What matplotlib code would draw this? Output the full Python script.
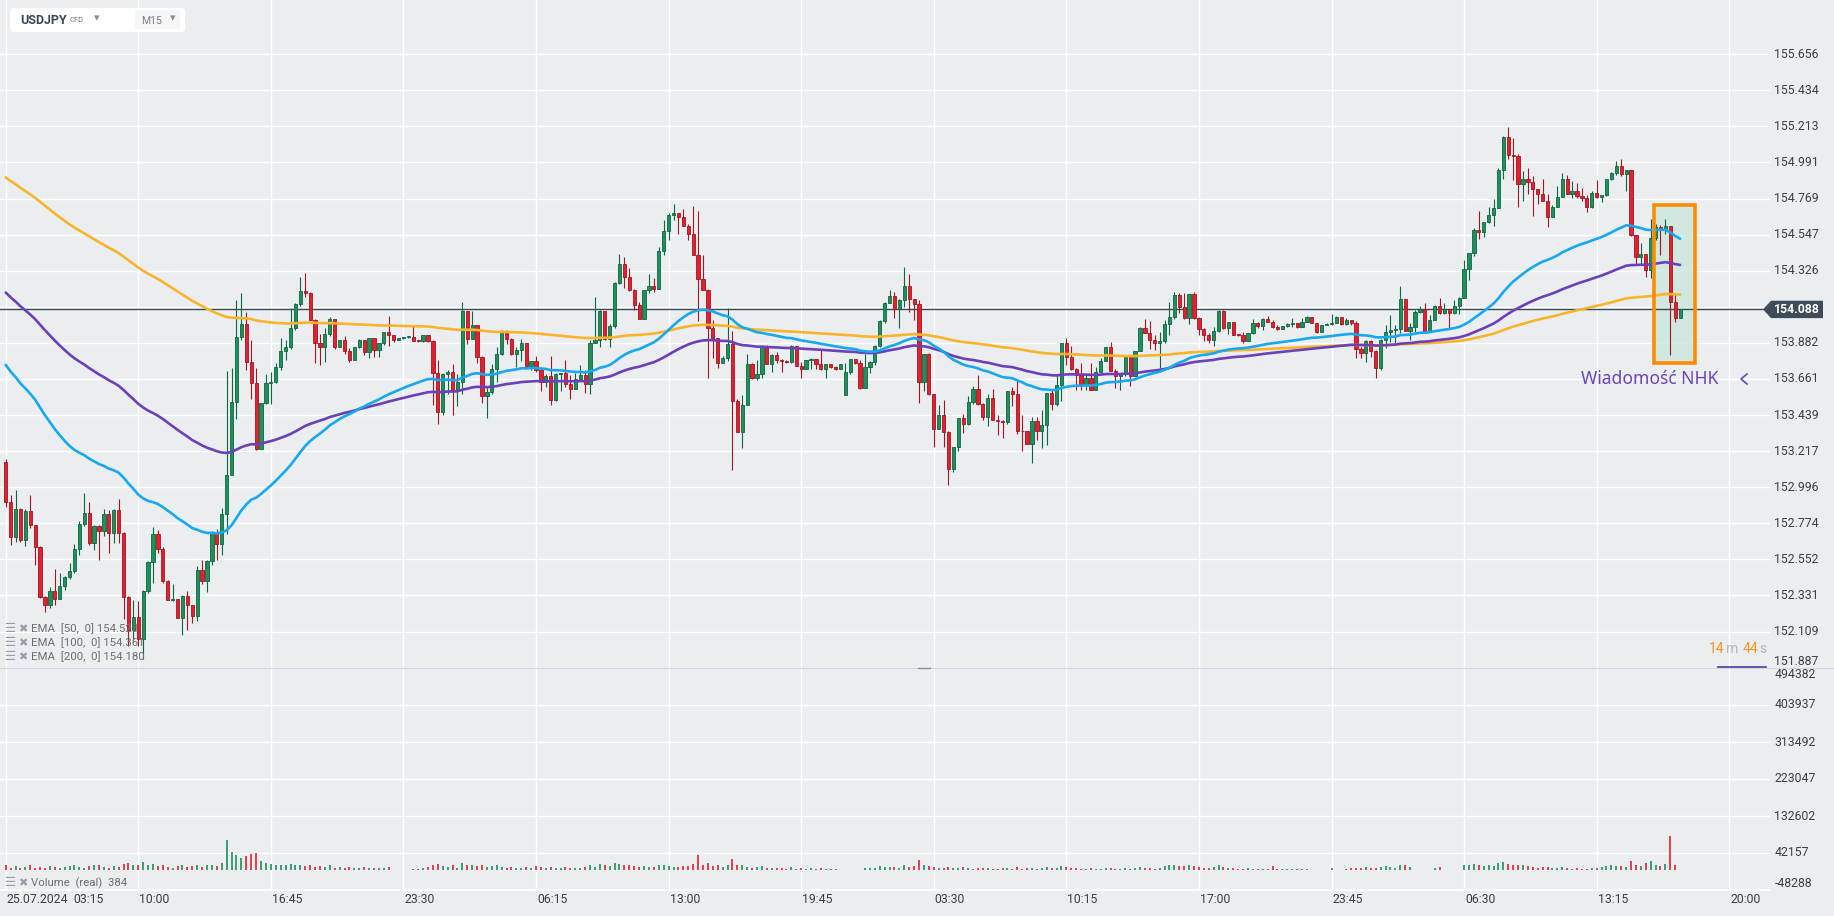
import numpy as np
import matplotlib.pyplot as plt
from matplotlib.patches import FancyBboxPatch, Rectangle, Polygon
from matplotlib.transforms import blended_transform_factory as blend

plt.rcParams['font.family'] = ['Roboto', 'DejaVu Sans']

# USDJPY M15 candles, 25.07.2024 03:15 onwards
close = [
    152.903, 152.690, 152.862, 152.670, 152.852, 152.762, 152.629, 152.320, 152.271, 152.361,
    152.306, 152.391, 152.447, 152.483, 152.616, 152.770, 152.839, 152.651, 152.755, 152.725,
    152.831, 152.715, 152.854, 152.715, 152.322, 152.121, 152.199, 152.066, 152.361, 152.535,
    152.708, 152.616, 152.422, 152.301, 152.310, 152.193, 152.330, 152.269, 152.207, 152.490,
    152.422, 152.541, 152.719, 152.647, 152.833, 153.068, 153.520, 153.917, 153.999, 153.764,
    153.639, 153.230, 153.512, 153.635, 153.641, 153.733, 153.835, 153.856, 153.972, 154.121,
    154.201, 154.187, 154.023, 153.884, 153.860, 153.937, 154.029, 153.860, 153.901, 153.833,
    153.778, 153.856, 153.901, 153.829, 153.911, 153.839, 153.880, 153.950, 153.931, 153.901,
    153.911, 153.917, 153.921, 153.896, 153.894, 153.929, 153.892, 153.697, 153.458, 153.689,
    153.701, 153.595, 153.640, 154.078, 153.908, 153.994, 153.796, 153.556, 153.583, 153.724,
    153.816, 153.949, 153.904, 153.816, 153.836, 153.884, 153.738, 153.773, 153.714, 153.642,
    153.677, 153.534, 153.693, 153.697, 153.632, 153.601, 153.662, 153.683, 153.628, 153.884,
    153.900, 154.078, 153.908, 153.984, 154.252, 154.365, 154.287, 154.205, 154.113, 154.031,
    154.205, 154.232, 154.213, 154.444, 154.567, 154.670, 154.682, 154.655, 154.600, 154.553,
    154.424, 154.275, 154.209, 153.976, 153.912, 153.759, 153.791, 153.873, 153.525, 153.335,
    153.499, 153.755, 153.669, 153.693, 153.861, 153.755, 153.806, 153.775, 153.771, 153.765,
    153.865, 153.738, 153.724, 153.775, 153.783, 153.750, 153.724, 153.750, 153.734, 153.724,
    153.750, 153.702, 153.782, 153.757, 153.604, 153.733, 153.764, 153.864, 154.017, 154.126,
    154.171, 154.089, 154.146, 154.232, 154.150, 154.119, 153.645, 153.813, 153.569, 153.353,
    153.441, 153.332, 153.107, 153.242, 153.420, 153.383, 153.518, 153.598, 153.506, 153.424,
    153.543, 153.406, 153.400, 153.395, 153.588, 153.569, 153.344, 153.338, 153.261, 153.404,
    153.344, 153.379, 153.573, 153.506, 153.623, 153.880, 153.798, 153.721, 153.686, 153.625,
    153.665, 153.590, 153.702, 153.772, 153.856, 153.712, 153.676, 153.690, 153.798, 153.680,
    153.833, 153.972, 153.946, 153.901, 153.880, 153.894, 153.997, 154.040, 154.177, 154.105,
    154.034, 154.181, 154.034, 153.966, 153.931, 153.901, 153.958, 154.079, 153.972, 154.009,
    153.931, 153.929, 153.896, 153.941, 154.003, 153.986, 154.027, 154.013, 153.982, 153.966,
    153.987, 153.999, 154.004, 153.982, 154.013, 154.044, 154.007, 153.952, 153.993, 153.996,
    154.003, 154.040, 153.997, 154.023, 154.003, 153.843, 153.819, 153.895, 153.835, 153.727,
    153.901, 153.952, 153.962, 153.968, 154.150, 153.958, 153.978, 154.074, 154.089, 153.952,
    154.023, 154.111, 154.064, 154.089, 154.064, 154.109, 154.160, 154.334, 154.432, 154.576,
    154.565, 154.627, 154.668, 154.713, 154.944, 155.148, 155.036, 155.030, 154.858, 154.892,
    154.872, 154.825, 154.800, 154.755, 154.657, 154.719, 154.780, 154.892, 154.800, 154.815,
    154.784, 154.770, 154.715, 154.805, 154.776, 154.790, 154.892, 154.927, 154.968, 154.919,
    154.944, 154.545, 154.408, 154.428, 154.330, 154.524, 154.594, 154.584, 154.598, 154.133,
    154.035, 154.088,
]
high = [
    153.171, 152.950, 152.976, 152.868, 152.862, 152.948, 152.755, 152.637, 152.330, 152.383,
    152.496, 152.469, 152.453, 152.530, 152.647, 152.786, 152.960, 152.905, 152.766, 152.766,
    152.862, 152.858, 152.862, 152.923, 152.721, 152.326, 152.301, 152.295, 152.367, 152.541,
    152.749, 152.735, 152.626, 152.428, 152.398, 152.306, 152.336, 152.357, 152.275, 152.514,
    152.551, 152.547, 152.725, 152.739, 152.870, 153.710, 153.727, 154.146, 154.187, 154.074,
    153.901, 153.727, 153.512, 153.690, 153.706, 153.757, 153.911, 153.901, 154.095, 154.130,
    154.289, 154.310, 154.193, 154.029, 153.937, 153.972, 154.040, 154.029, 153.901, 153.927,
    153.849, 153.856, 153.905, 153.901, 153.911, 153.911, 153.880, 153.950, 154.048, 153.925,
    153.913, 153.919, 153.923, 153.989, 153.899, 153.931, 153.931, 153.898, 153.775, 153.697,
    153.714, 153.750, 153.693, 154.131, 154.078, 154.078, 153.994, 153.804, 153.611, 153.755,
    153.857, 153.959, 153.959, 153.914, 153.857, 153.904, 153.877, 153.773, 153.800, 153.734,
    153.689, 153.800, 153.697, 153.699, 153.775, 153.683, 153.697, 153.744, 153.714, 153.902,
    154.164, 154.082, 154.066, 154.000, 154.256, 154.426, 154.410, 154.344, 154.213, 154.131,
    154.209, 154.303, 154.283, 154.471, 154.639, 154.680, 154.733, 154.680, 154.706, 154.610,
    154.721, 154.690, 154.420, 154.215, 154.021, 153.912, 153.800, 154.096, 153.953, 153.540,
    153.560, 153.816, 153.759, 153.779, 153.867, 153.867, 153.816, 153.826, 153.781, 153.775,
    153.871, 153.865, 153.763, 153.775, 153.789, 153.785, 153.847, 153.754, 153.752, 153.738,
    153.754, 153.757, 153.782, 153.782, 153.778, 153.815, 153.772, 153.870, 154.023, 154.136,
    154.207, 154.197, 154.150, 154.351, 154.306, 154.150, 154.146, 153.813, 153.823, 153.569,
    153.498, 153.532, 153.338, 153.242, 153.420, 153.447, 153.557, 153.618, 153.686, 153.512,
    153.569, 153.598, 153.440, 153.410, 153.588, 153.614, 153.651, 153.440, 153.340, 153.430,
    153.430, 153.471, 153.577, 153.598, 153.692, 153.880, 153.911, 153.864, 153.730, 153.761,
    153.685, 153.757, 153.733, 153.788, 153.856, 153.890, 153.723, 153.697, 153.798, 153.798,
    153.833, 153.982, 154.027, 154.017, 153.931, 153.952, 154.023, 154.136, 154.197, 154.191,
    154.187, 154.181, 154.197, 154.044, 153.972, 153.941, 153.982, 154.085, 154.085, 154.013,
    154.009, 153.939, 153.952, 153.945, 154.027, 154.013, 154.037, 154.048, 154.023, 153.990,
    153.987, 154.003, 154.034, 154.003, 154.034, 154.048, 154.044, 154.003, 153.993, 154.003,
    154.060, 154.048, 154.040, 154.034, 154.023, 154.017, 153.856, 153.901, 153.901, 153.839,
    153.905, 153.993, 154.054, 153.993, 154.232, 154.150, 154.003, 154.085, 154.109, 154.126,
    154.054, 154.115, 154.156, 154.126, 154.089, 154.146, 154.166, 154.391, 154.437, 154.586,
    154.694, 154.627, 154.719, 154.764, 154.954, 155.152, 155.209, 155.142, 155.042, 154.940,
    154.954, 154.907, 154.830, 154.892, 154.800, 154.729, 154.845, 154.927, 154.913, 154.876,
    154.866, 154.831, 154.790, 154.817, 154.882, 154.790, 154.892, 154.933, 155.001, 155.015,
    154.944, 154.944, 154.545, 154.494, 154.430, 154.641, 154.614, 154.604, 154.645, 154.598,
    154.191, 154.092,
]
low = [
    152.874, 152.643, 152.657, 152.657, 152.637, 152.743, 152.516, 152.316, 152.228, 152.254,
    152.275, 152.306, 152.367, 152.432, 152.469, 152.582, 152.755, 152.643, 152.610, 152.547,
    152.694, 152.592, 152.653, 152.653, 152.183, 152.019, 152.060, 152.019, 151.942, 152.346,
    152.408, 152.592, 152.408, 152.301, 152.295, 152.193, 152.085, 152.117, 152.162, 152.173,
    152.398, 152.351, 152.520, 152.551, 152.582, 152.710, 153.068, 153.414, 153.901, 153.717,
    153.537, 153.226, 153.236, 153.506, 153.506, 153.635, 153.717, 153.778, 153.843, 153.962,
    154.111, 154.166, 154.023, 153.757, 153.747, 153.768, 153.925, 153.843, 153.856, 153.815,
    153.768, 153.778, 153.849, 153.809, 153.792, 153.798, 153.798, 153.870, 153.864, 153.890,
    153.899, 153.907, 153.911, 153.896, 153.890, 153.890, 153.888, 153.499, 153.386, 153.437,
    153.566, 153.437, 153.492, 153.566, 153.873, 153.908, 153.759, 153.513, 153.421, 153.566,
    153.642, 153.806, 153.877, 153.806, 153.734, 153.771, 153.724, 153.714, 153.703, 153.587,
    153.611, 153.499, 153.525, 153.587, 153.611, 153.540, 153.597, 153.652, 153.574, 153.566,
    153.880, 153.857, 153.898, 153.857, 153.976, 154.246, 154.221, 154.201, 154.082, 154.027,
    154.027, 154.189, 154.195, 154.213, 154.420, 154.512, 154.635, 154.549, 154.598, 154.512,
    154.420, 154.017, 154.205, 153.669, 153.789, 153.728, 153.771, 153.771, 153.104, 153.335,
    153.239, 153.499, 153.662, 153.652, 153.669, 153.751, 153.703, 153.759, 153.703, 153.759,
    153.759, 153.738, 153.669, 153.720, 153.724, 153.724, 153.714, 153.669, 153.730, 153.718,
    153.720, 153.560, 153.692, 153.751, 153.598, 153.604, 153.696, 153.745, 153.857, 154.007,
    154.126, 154.034, 153.976, 154.101, 154.074, 154.023, 153.516, 153.588, 153.565, 153.240,
    153.353, 153.242, 153.007, 153.087, 153.216, 153.328, 153.378, 153.508, 153.502, 153.410,
    153.369, 153.406, 153.318, 153.301, 153.385, 153.496, 153.324, 153.216, 153.261, 153.144,
    153.287, 153.236, 153.256, 153.471, 153.496, 153.526, 153.747, 153.717, 153.590, 153.594,
    153.594, 153.590, 153.590, 153.702, 153.772, 153.712, 153.604, 153.590, 153.680, 153.618,
    153.676, 153.833, 153.942, 153.843, 153.839, 153.727, 153.880, 153.931, 154.030, 154.064,
    154.028, 153.997, 154.028, 153.931, 153.896, 153.880, 153.864, 153.950, 153.966, 153.937,
    153.929, 153.925, 153.884, 153.896, 153.937, 153.972, 153.962, 154.009, 153.972, 153.962,
    153.966, 153.982, 153.978, 153.972, 153.978, 154.009, 154.003, 153.941, 153.952, 153.990,
    153.993, 154.003, 153.993, 153.990, 153.993, 153.788, 153.788, 153.768, 153.794, 153.665,
    153.717, 153.849, 153.890, 153.880, 153.945, 153.958, 153.901, 153.952, 154.064, 153.945,
    153.952, 154.023, 154.060, 154.060, 153.972, 154.060, 154.058, 154.160, 154.269, 154.416,
    154.518, 154.530, 154.620, 154.600, 154.713, 154.892, 155.015, 154.886, 154.719, 154.755,
    154.800, 154.661, 154.735, 154.755, 154.596, 154.655, 154.719, 154.780, 154.796, 154.774,
    154.770, 154.755, 154.688, 154.711, 154.770, 154.749, 154.786, 154.886, 154.913, 154.907,
    154.817, 154.537, 154.361, 154.367, 154.289, 154.279, 154.516, 154.424, 154.549, 153.810,
    154.010, 154.035,
]
first_open = 153.150
gap_open = {171: 153.563}   # session open gap

# volume in thousands (0 = no bar shown)
volume_k = [
    12, 6, 10, 5, 8, 14, 6, 8, 6, 10,
    8, 6, 8, 10, 12, 8, 6, 10, 14, 12,
    8, 6, 10, 8, 16, 18, 12, 14, 20, 12,
    16, 10, 12, 8, 6, 10, 12, 8, 10, 14,
    8, 12, 14, 10, 18, 75, 44, 38, 30, 36,
    40, 42, 22, 18, 16, 14, 12, 14, 16, 12,
    14, 10, 12, 8, 10, 8, 12, 6, 8, 6,
    8, 6, 6, 8, 6, 6, 5, 6, 8, 0,
    0, 0, 0, 4, 4, 6, 8, 14, 16, 10,
    8, 12, 6, 18, 14, 12, 10, 14, 8, 10,
    12, 8, 6, 8, 6, 6, 8, 6, 10, 8,
    6, 8, 6, 6, 8, 6, 6, 6, 8, 14,
    8, 16, 12, 10, 18, 16, 12, 14, 10, 8,
    10, 8, 8, 14, 12, 10, 8, 8, 10, 10,
    16, 38, 14, 18, 10, 12, 8, 14, 28, 12,
    12, 8, 6, 8, 10, 6, 6, 6, 6, 4,
    8, 4, 6, 4, 6, 4, 6, 4, 4, 4,
    0, 0, 0, 0, 0, 6, 6, 6, 10, 8,
    8, 8, 6, 14, 8, 10, 24, 12, 10, 8,
    6, 6, 8, 6, 6, 8, 6, 4, 6, 6,
    6, 4, 4, 6, 6, 4, 8, 4, 6, 6,
    4, 6, 8, 6, 6, 10, 8, 6, 6, 4,
    4, 6, 4, 4, 6, 6, 4, 4, 6, 4,
    6, 8, 6, 6, 4, 6, 10, 12, 12, 10,
    10, 14, 10, 8, 6, 6, 8, 14, 8, 6,
    6, 4, 4, 6, 4, 4, 4, 4, 10, 4,
    4, 4, 4, 4, 4, 4, 0, 0, 0, 0,
    6, 0, 0, 4, 6, 6, 6, 8, 6, 6,
    8, 10, 8, 6, 14, 12, 8, 0, 0, 0,
    0, 6, 8, 0, 0, 0, 0, 14, 12, 16,
    14, 10, 12, 10, 18, 20, 16, 14, 12, 12,
    10, 8, 6, 8, 8, 6, 6, 8, 6, 4,
    6, 4, 4, 6, 6, 8, 10, 12, 10, 10,
    8, 22, 14, 10, 18, 22, 14, 10, 16, 84,
    14, 0.384,
]

ema_seed = {50: 153.782, 100: 154.218, 200: 154.919}
ema_legend = ['EMA  [50,  0] 154.523', 'EMA  [100,  0] 154.361', 'EMA  [200,  0] 154.180']

price_ticks = [155.656, 155.434, 155.213, 154.991, 154.769, 154.547, 154.326, 154.104,
               153.882, 153.661, 153.439, 153.217, 152.996, 152.774, 152.552, 152.331,
               152.109, 151.887]
vol_ticks = [494382, 403937, 313492, 223047, 132602, 42157, -48288]
time_idx = [0, 27, 54, 81, 108, 135, 162, 189, 216, 243, 270, 297, 324, 351]
time_labels = ['03:15', '10:00', '16:45', '23:30', '06:15', '13:00', '19:45',
               '03:30', '10:15', '17:00', '23:45', '06:30', '13:15', '20:00']
first_date = '25.07.2024'

news_x = (335.6, 344.0)
news_y = (153.757, 154.730)
news_text = 'Wiadomość NHK'

# colours
BG = '#ebeef1'
TXT = '#3e3e3e'
GREEN, GREEN_EDGE = '#1f8f5c', '#0d6640'
RED, RED_EDGE = '#e3202f', '#a5141f'
EMA_COL = {50: '#17a8f0', 100: '#6b40b9', 200: '#fbb42a'}
W, H = 1834, 916

opens = [first_open] + close[:-1]
for k, v in gap_open.items():
    opens[k] = v
o = np.array(opens)
c = np.array(close)
h = np.maximum(np.array(high), np.maximum(o, c))
l = np.minimum(np.array(low), np.minimum(o, c))
x = np.arange(len(c))
up = c >= o


def ema(values, span, seed):
    a = 2.0 / (span + 1)
    out, prev = [], seed
    for v in values:
        prev = a * v + (1 - a) * prev
        out.append(prev)
    return out


def box(x0, y0, x1, y1):
    return [x0 / W, 1 - y1 / H, (x1 - x0) / W, (y1 - y0) / H]


fig = plt.figure(figsize=(W / 100, H / 100), dpi=100, facecolor=BG)
ax = fig.add_axes(box(0, 0, 1770, 668))
axv = fig.add_axes(box(0, 668, 1770, 890))

for a in (ax, axv):
    a.set_facecolor(BG)
    a.set_xlim(-1.161, 359.3)
    for s in a.spines.values():
        s.set_visible(False)
    a.set_xticks([])
    a.set_yticks([])
    for t in time_idx:
        a.axvline(t, color='white', lw=1.0, zorder=0)

ax.set_ylim(151.885, 155.989)
axv.set_ylim(-48288, 494382)

# price grid + labels
tr = blend(ax.transAxes, ax.transData)
for v in price_ticks:
    ax.axhline(v, color='white', lw=1.0, zorder=0)
    if v == 154.104:
        continue
    va = 'bottom' if v == price_ticks[-1] else 'center'
    ax.text(1.0025, v, f'{v:.3f}', transform=tr, ha='left', va=va,
            fontsize=8.8, color=TXT, clip_on=False)

trv = blend(axv.transAxes, axv.transData)
for v in vol_ticks:
    axv.axhline(v, color='white', lw=1.0, zorder=0)
    va = 'top' if v == vol_ticks[0] else ('bottom' if v == vol_ticks[-1] else 'center')
    axv.text(1.0025, v, str(v), transform=trv, ha='left', va=va,
             fontsize=8.8, color=TXT, clip_on=False)

# news box (fill under candles, frame on top)
ax.add_patch(Rectangle((news_x[0], news_y[0]), news_x[1] - news_x[0], news_y[1] - news_y[0],
                       facecolor='#cde8df', edgecolor='none', alpha=0.85, zorder=1))
ax.add_patch(Rectangle((news_x[0], news_y[0]), news_x[1] - news_x[0], news_y[1] - news_y[0],
                       facecolor='none', edgecolor='#ff8c00', lw=2.6, zorder=7))
ax.text(334.7, 153.661, news_text, ha='center', va='center', fontsize=12.6,
        color='#6c45b7', family=['Noto Sans', 'DejaVu Sans'], zorder=8)

# current price line
ax.axhline(c[-1], color='#3b4a56', lw=1.0, zorder=2)

# candles
fill = np.where(up, GREEN, RED)
edge = np.where(up, GREEN_EDGE, RED_EDGE)
body_lo = np.minimum(o, c)
body_h = np.maximum(np.abs(c - o), 0.006)
ax.vlines(x, l, h, colors=edge, lw=0.8, zorder=3)
ax.bar(x, body_h, bottom=body_lo, width=0.66, color=fill, edgecolor=edge,
       linewidth=0.6, zorder=4)

# EMAs
for span in (200, 100, 50):
    ax.plot(x, ema(close, span, ema_seed[span]), color=EMA_COL[span], lw=1.9,
            zorder=5, solid_capstyle='round')

# volume
axv.vlines(x, 0, np.array(volume_k) * 1000, colors=np.where(up, GREEN, RED), lw=1.2, zorder=3)

# overlay in pixel coordinates
ov = fig.add_axes([0, 0, 1, 1], zorder=10)
ov.set_xlim(0, W)
ov.set_ylim(H, 0)
ov.axis('off')

ov.plot([0, W], [668, 668], color='#d3d6da', lw=0.8)
ov.plot([0, 1770], [890, 890], color='white', lw=1.2)
ov.plot([918, 930], [668, 668], color='#8c8c8c', lw=1.0)

# time labels
for t, lab in zip(time_idx, time_labels):
    px = ax.transData.transform((t, 0))[0]
    if t == 0:
        ov.text(px + 1, 899.5, first_date, ha='left', va='center', fontsize=8.8, color=TXT)
        px += 67
    ov.text(px + 1, 899.5, lab, ha='left', va='center', fontsize=8.8, color=TXT)

# last price tag
yp = H - ax.transData.transform((0, c[-1]))[1]
ov.add_patch(Polygon([(1763, yp), (1771, yp - 8.7), (1823, yp - 8.7), (1823, yp + 8.7),
                      (1771, yp + 8.7)], closed=True, facecolor='#3d4c58', edgecolor='none'))
ov.text(1774, yp + 0.5, f'{c[-1]:.3f}', ha='left', va='center', fontsize=8.8,
        color='white', fontweight='bold')

# countdown
ov.text(1709, 649, '14', ha='left', va='center', fontsize=10, color='#f7931e')
ov.text(1726, 649, 'm', ha='left', va='center', fontsize=10, color='#b5b8bb')
ov.text(1743, 649, '44', ha='left', va='center', fontsize=10, color='#f7931e')
ov.text(1759, 649, 's', ha='left', va='center', fontsize=10, color='#b5b8bb')
ov.plot([1718, 1766], [667, 667], color='#4b3b9e', lw=1.2)
ov.plot([1747, 1741, 1747], [374, 379, 384], color='#6c45b7', lw=1.2)

# indicator legends
legend_rows = list(zip([629, 643, 657], ema_legend)) + [(883, 'Volume  (real)  384')]
for yy, lab in legend_rows:
    ov.text(5, yy, '\u2630', ha='left', va='center', fontsize=9, color='#9a9ea3',
            family='DejaVu Sans')
    ov.text(18, yy, '\u2716', ha='left', va='center', fontsize=8, color='#9a9ea3',
            family='DejaVu Sans')
    ov.text(31, yy, lab, ha='left', va='center', fontsize=8.2, color='#6e6e6e')

# header
ov.add_patch(FancyBboxPatch((10, 8), 175, 24, boxstyle='round,pad=0,rounding_size=3',
                            facecolor='white', edgecolor='none'))
ov.add_patch(Rectangle((135, 9.5), 45, 19, facecolor='#f5f6f8', edgecolor='none'))
ov.text(20, 20, 'USDJPY', ha='left', va='center', fontsize=9, fontweight='bold', color='#3b4853')
ov.text(69, 19.5, 'CFD', ha='left', va='center', fontsize=5.5, color='#6b7780')
ov.text(94, 18, '\u25be', ha='left', va='center', fontsize=8, color='#8a8f94', family='DejaVu Sans')
ov.text(141, 20.5, 'M15', ha='left', va='center', fontsize=7.5, color='#7a8288')
ov.text(170, 18, '\u25be', ha='left', va='center', fontsize=8, color='#8a8f94', family='DejaVu Sans')

fig.savefig('out.png', dpi=100, facecolor=BG)
